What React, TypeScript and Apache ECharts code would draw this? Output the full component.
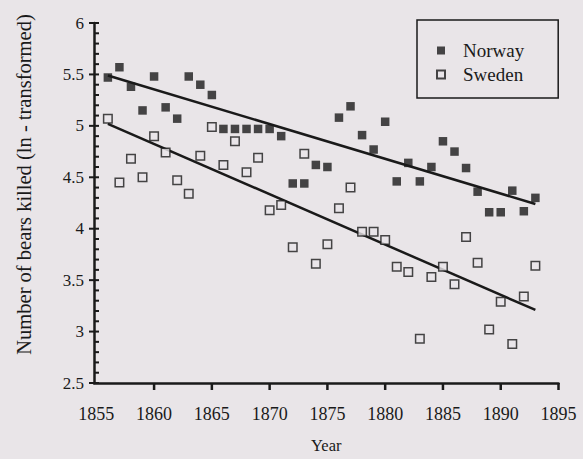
import React, { useEffect, useRef } from "react";
import * as echarts from "echarts";

const norwayYears = [1856, 1857, 1858, 1859, 1860, 1861, 1862, 1863, 1864, 1865, 1866, 1867, 1868, 1869, 1870, 1871, 1872, 1873, 1874, 1875, 1876, 1877, 1878, 1879, 1880, 1881, 1882, 1883, 1884, 1885, 1886, 1887, 1888, 1889, 1890, 1891, 1892, 1893];
const norwayValues = [5.47, 5.57, 5.38, 5.15, 5.48, 5.18, 5.07, 5.48, 5.4, 5.3, 4.97, 4.97, 4.97, 4.97, 4.97, 4.9, 4.44, 4.44, 4.62, 4.6, 5.08, 5.19, 4.91, 4.77, 5.04, 4.46, 4.64, 4.46, 4.6, 4.85, 4.75, 4.59, 4.36, 4.16, 4.16, 4.37, 4.17, 4.3];

const swedenYears = [1856, 1857, 1858, 1859, 1860, 1861, 1862, 1863, 1864, 1865, 1866, 1867, 1868, 1869, 1870, 1871, 1872, 1873, 1874, 1875, 1876, 1877, 1878, 1879, 1880, 1881, 1882, 1883, 1884, 1885, 1886, 1887, 1888, 1889, 1890, 1891, 1892, 1893];
const swedenValues = [5.07, 4.45, 4.68, 4.5, 4.9, 4.74, 4.47, 4.34, 4.71, 4.99, 4.62, 4.85, 4.55, 4.69, 4.18, 4.23, 3.82, 4.73, 3.66, 3.85, 4.2, 4.4, 3.97, 3.97, 3.89, 3.63, 3.58, 2.93, 3.53, 3.63, 3.46, 3.92, 3.67, 3.02, 3.29, 2.88, 3.34, 3.64];

const norwayFitYears = [1856, 1893];
const norwayFitValues = [5.49, 4.24];
const swedenFitYears = [1856, 1893];
const swedenFitValues = [5.02, 3.21];

const xTickValues = [1860, 1865, 1870, 1875, 1880, 1885, 1890, 1895];
const xLabelValues = [1855, 1860, 1865, 1870, 1875, 1880, 1885, 1890, 1895];
const yMajorTicks = [2.5, 3, 3.5, 4, 4.5, 5, 5.5, 6];

const X_MIN = 1854.8;
const X_MAX = 1895;
const Y_MIN = 2.5;
const Y_MAX = 6;

const BG = "#e9e5e8";
const INK = "#1a1a1a";
const FONT = "'Liberation Serif', 'DejaVu Serif', serif";

export default function App() {
  const ref = useRef<HTMLDivElement>(null);
  useEffect(() => {
    if (!ref.current) return;
    const chart = echarts.init(ref.current, undefined, { renderer: "svg" });
    const zip = (xs: number[], ys: number[]) => xs.map((x, i) => [x, ys[i]]);
    chart.setOption({
      animation: false,
      backgroundColor: BG,
      textStyle: { fontFamily: FONT, color: INK },
      grid: { left: 94, right: 24.5, top: 23, bottom: 74 },
      legend: {
        orient: "vertical",
        left: 417,
        top: 20,
        padding: [21, 34, 14, 19],
        itemGap: 5,
        itemWidth: 8,
        itemHeight: 8,
        borderColor: INK,
        borderWidth: 1.5,
        data: ["Norway", "Sweden"],
        textStyle: { fontFamily: FONT, fontSize: 19, color: INK, lineHeight: 19, padding: [0, 0, 0, 13] },
      },
      xAxis: {
        type: "value",
        min: X_MIN,
        max: X_MAX,
        name: "Year",
        nameLocation: "middle",
        nameGap: 54,
        nameTextStyle: { fontFamily: FONT, fontSize: 16.5, color: INK },
        splitLine: { show: false },
        axisLine: { show: true, lineStyle: { color: INK, width: 2.5 } },
        axisTick: { show: false },
        axisLabel: { fontFamily: FONT, fontSize: 18, color: INK, margin: 22, customValues: xLabelValues, formatter: (v: number) => String(v) },
      },
      yAxis: {
        type: "value",
        min: Y_MIN,
        max: Y_MAX,
        interval: 0.5,
        name: "Number of bears killed (ln - transformed)",
        nameLocation: "middle",
        nameGap: 60,
        nameTextStyle: { fontFamily: FONT, fontSize: 20.5, color: INK, padding: [0, 0, 0, 37] },
        splitLine: { show: false },
        axisLine: { show: true, lineStyle: { color: INK, width: 2.5 } },
        axisTick: { show: false },
        axisLabel: { fontFamily: FONT, fontSize: 17, color: INK, margin: 10 },
      },
      series: [
        {
          name: "Norway",
          type: "scatter",
          symbol: "rect",
          symbolSize: 8.5,
          itemStyle: { color: INK },
          data: zip(norwayYears, norwayValues),
        },
        {
          name: "Sweden",
          type: "scatter",
          symbol: "rect",
          symbolSize: 8.5,
          itemStyle: { color: BG, borderColor: INK, borderWidth: 1.5 },
          data: zip(swedenYears, swedenValues),
        },
        {
          name: "Norway fit",
          type: "line",
          symbol: "none",
          lineStyle: { color: INK, width: 2.5 },
          data: zip(norwayFitYears, norwayFitValues),
          z: 1,
        },
        {
          name: "Sweden fit",
          type: "line",
          symbol: "none",
          lineStyle: { color: INK, width: 2.5 },
          data: zip(swedenFitYears, swedenFitValues),
          z: 1,
        },
      ],
    });

    // Axis ticks placed through the chart's own scales
    const elements: any[] = [];
    const tickStyle = { stroke: INK, lineWidth: 2 };
    const steps = Math.round((Y_MAX - Y_MIN) / 0.1);
    for (let i = 0; i <= steps; i++) {
      const v = Y_MIN + i * 0.1;
      const [px, py] = chart.convertToPixel({ gridIndex: 0 }, [X_MIN, v]) as number[];
      elements.push({ type: "line", silent: true, z: 10, shape: { x1: px, y1: py, x2: px + 5, y2: py }, style: tickStyle });
    }
    yMajorTicks.forEach((v) => {
      const [px, py] = chart.convertToPixel({ gridIndex: 0 }, [X_MIN, v]) as number[];
      elements.push({ type: "line", silent: true, z: 10, shape: { x1: px - 5, y1: py, x2: px, y2: py }, style: tickStyle });
    });
    xTickValues.forEach((v) => {
      const [px, py] = chart.convertToPixel({ gridIndex: 0 }, [v, Y_MIN]) as number[];
      elements.push({ type: "line", silent: true, z: 10, shape: { x1: px, y1: py, x2: px, y2: py + 7 }, style: { stroke: INK, lineWidth: 2.5 } });
    });
    chart.setOption({ graphic: { elements } });

    return () => chart.dispose();
  }, []);
  return <div ref={ref} style={{ position: "fixed", left: 0, top: 0, width: 583, height: 459 }} />;
}
